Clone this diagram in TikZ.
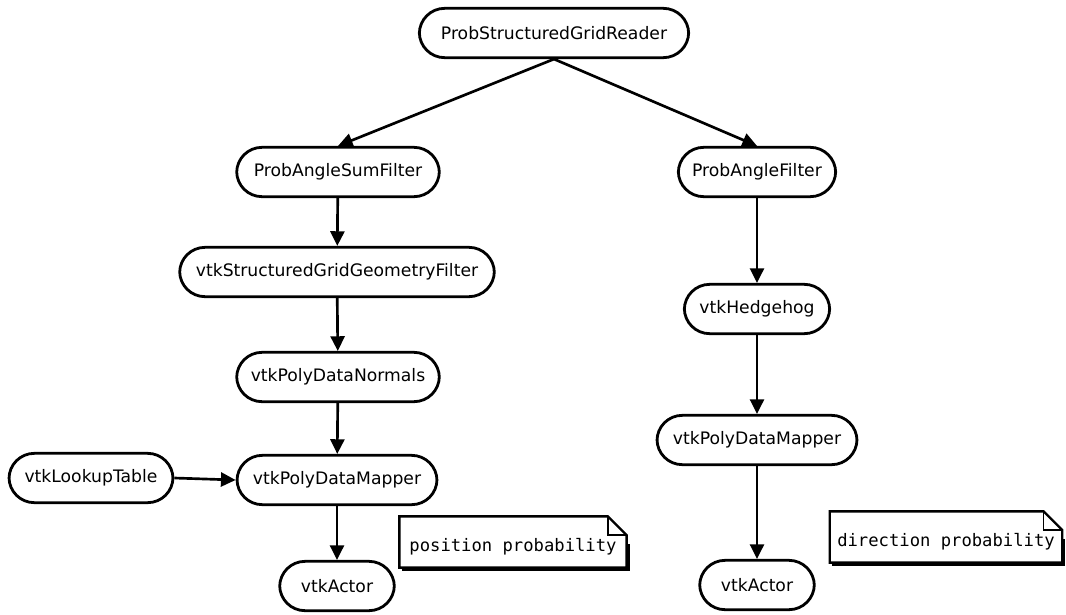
\documentclass[tikz,border=0pt]{standalone}
\usepackage{fontspec}
\setmainfont{DejaVu Sans}
\newfontfamily\notefont{DejaVu Sans Mono}
\usetikzlibrary{arrows.meta}

\tikzset{
  proc/.style={draw, line width=2.1pt, rounded corners=19pt, minimum height=37pt,
    inner xsep=4pt, font=\fontsize{12.9}{15}\selectfont},
  note/.style={inner xsep=4pt, inner ysep=1pt, minimum height=38pt, text height=17pt, text depth=2.5pt,
    font=\notefont\fontsize{12.9}{15}\selectfont},
  flow/.style={line width=2pt, -{Triangle[length=11pt,width=10.5pt]}},
  fold/.style={line width=1.8pt, line join=miter}
}

\begin{document}
\begin{tikzpicture}[x=0.75pt,y=0.75pt,yscale=-1,xscale=1]
\useasboundingbox (0,0) rectangle (1066,614);

%Pipeline nodes
\node [proc, minimum width=202pt] (reader) at (554,33) {ProbStructuredGridReader};
\node [proc, minimum width=152pt] (sum) at (338,172) {ProbAngleSumFilter};
\node [proc, minimum width=118pt] (angle) at (757,172) {ProbAngleFilter};
\node [proc, minimum width=236pt] (geom) at (337,272) {vtkStructuredGridGeometryFilter};
\node [proc, minimum width=152pt] (normals) at (338,377) {vtkPolyDataNormals};
\node [proc, minimum width=123pt] (lut) at (91,478) {vtkLookupTable};
\node [proc, minimum width=150pt] (mapperA) at (337,480) {vtkPolyDataMapper};
\node [proc, minimum width=86pt] (actorA) at (337,586) {vtkActor};
\node [proc, minimum width=109pt] (hedgehog) at (757,309) {vtkHedgehog};
\node [proc, minimum width=150pt] (mapperB) at (757,440) {vtkPolyDataMapper};
\node [proc, minimum width=86pt] (actorB) at (757,585) {vtkActor};

%Notes (yscale=-1, so a positive yshift goes down)
\node [note, minimum width=170pt] (posnote) at (513,542) {position probability};
\node [note, minimum width=174pt] (dirnote) at (946,537) {direction probability};
\foreach \n in {posnote,dirnote}{
  % shadow on the lower and right sides
  \draw [fold, line width=1.4pt] ([shift={(1.6pt,1.6pt)}]\n.south west) -- ([shift={(1.6pt,1.6pt)}]\n.south east)
    -- ([shift={(1.6pt,1.6pt)}]\n.east);
  \draw [fold] (\n.south west) -- (\n.north west) -- ([xshift=-14pt]\n.north east)
    -- ([yshift=14pt]\n.north east) -- (\n.south east) -- cycle;
  \draw [fold, line width=1.3pt] ([xshift=-14pt]\n.north east) |- ([yshift=14pt]\n.north east);
}

%Edges
\draw [flow] (reader.south) -- (sum.north);
\draw [flow] (reader.south) -- (angle.north);
\draw [flow] (sum) -- (geom);
\draw [flow] (geom) -- (normals);
\draw [flow] (normals) -- (mapperA);
\draw [flow] (lut.east) -- (mapperA.west);
\draw [flow] (mapperA) -- (actorA);
\draw [flow] (angle) -- (hedgehog);
\draw [flow] (hedgehog) -- (mapperB);
\draw [flow] (mapperB) -- (actorB);

\end{tikzpicture}
\end{document}
